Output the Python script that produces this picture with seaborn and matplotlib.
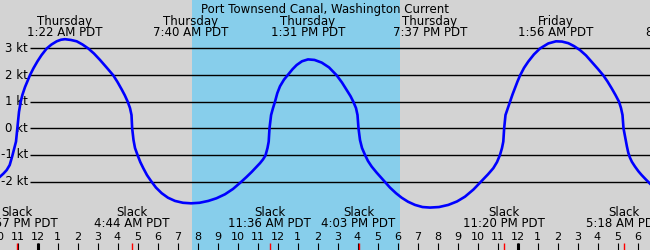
import matplotlib
matplotlib.use("Agg")
import matplotlib.pyplot as plt
import seaborn as sns
import pandas as pd

# ---- data (hours from Thursday 00:00 PDT, current in knots) ----
hours = [-1.875, -1.70, -1.54, -1.39, -1.26, -1.15, -1.075, -1.01, -0.925, -0.84,
         -0.75, -0.625, -0.5, -0.375, -0.2, 0.0, 0.2, 0.46, 0.70, 0.96,
         1.175, 1.375, 1.675, 1.96, 2.25, 2.54, 2.825, 3.125, 3.45, 3.79,
         4.0, 4.21, 4.365, 4.51, 4.625, 4.70, 4.733, 4.80, 4.875, 5.01,
         5.14, 5.29, 5.475, 5.675, 5.925, 6.21, 6.525, 6.875, 7.275, 7.675,
         8.10, 8.54, 8.95, 9.375, 9.775, 10.175, 10.45, 10.71, 10.925, 11.125,
         11.275, 11.4, 11.5, 11.56, 11.6, 11.68, 11.775, 11.875, 11.99, 12.125,
         12.325, 12.54, 12.75, 12.96, 13.225, 13.525, 13.85, 14.21, 14.575, 14.96,
         15.225, 15.46, 15.65, 15.79, 15.925, 16.0, 16.05, 16.125, 16.225, 16.375,
         16.525, 16.71, 16.95, 17.21, 17.425, 17.625, 17.925, 18.21, 18.525, 18.875,
         19.25, 19.625, 20.075, 20.54, 20.975, 21.375, 21.8, 22.21, 22.525, 22.79,
         22.975, 23.125, 23.225, 23.29, 23.333, 23.40, 23.5, 23.625, 23.75, 23.875,
         24.0, 24.125, 24.325, 24.54, 24.825, 25.125, 25.54, 25.925, 26.225, 26.54,
         26.825, 27.125, 27.425, 27.71, 28.0, 28.29, 28.5, 28.71, 28.9, 29.075,
         29.175, 29.25, 29.3, 29.40, 29.47, 29.54, 29.62, 29.72, 29.875, 30.05,
         30.21, 30.425, 30.625]
knots = [-1.82, -1.70, -1.57, -1.38, -1.04, -0.72, -0.5, 0.0, 0.62, 1.0,
         1.27, 1.55, 1.78, 2.0, 2.26, 2.52, 2.75, 3.0, 3.15, 3.27,
         3.33, 3.35, 3.32, 3.27, 3.15, 3.0, 2.81, 2.57, 2.29, 1.99,
         1.74, 1.46, 1.24, 1.0, 0.76, 0.5, 0.0, -0.44, -0.74, -1.02,
         -1.27, -1.5, -1.76, -1.98, -2.23, -2.44, -2.61, -2.73, -2.80, -2.82,
         -2.80, -2.73, -2.63, -2.48, -2.28, -2.02, -1.83, -1.64, -1.47, -1.31,
         -1.17, -1.02, -0.74, -0.5, 0.0, 0.5, 0.76, 1.0, 1.32, 1.58,
         1.83, 2.03, 2.22, 2.38, 2.52, 2.59, 2.57, 2.47, 2.29, 1.99,
         1.72, 1.44, 1.21, 1.0, 0.76, 0.5, 0.0, -0.44, -0.74, -1.0,
         -1.23, -1.44, -1.66, -1.88, -2.06, -2.23, -2.44, -2.61, -2.76, -2.88,
         -2.96, -2.98, -2.96, -2.88, -2.75, -2.57, -2.30, -1.98, -1.73, -1.50,
         -1.27, -1.0, -0.74, -0.5, 0.0, 0.5, 0.72, 1.0, 1.27, 1.52,
         1.76, 1.98, 2.27, 2.51, 2.78, 3.0, 3.19, 3.27, 3.26, 3.20,
         3.09, 2.94, 2.74, 2.50, 2.25, 1.99, 1.76, 1.50, 1.25, 1.0,
         0.76, 0.5, 0.0, -0.40, -0.68, -0.92, -1.10, -1.26, -1.44, -1.62,
         -1.76, -1.93, -2.08]

max_times = [1.367, 7.667, 13.517, 19.617, 25.933, 32.3]
max_days = ["Thursday", "Thursday", "Thursday", "Thursday", "Friday", "Friday"]
max_labels = ["1:22 AM PDT", "7:40 AM PDT", "1:31 PM PDT", "7:37 PM PDT", "1:56 AM PDT", "8:18 AM PDT"]

slack_times = [-1.05, 4.733, 11.6, 16.05, 23.333, 29.3]
slack_labels = ["10:57 PM PDT", "4:44 AM PDT", "11:36 AM PDT", "4:03 PM PDT", "11:20 PM PDT", "5:18 AM PDT"]

daylight = [7.71, 18.125]
midnights = [0, 24]

hour_ticks = list(range(-2, 32))
hour_labels = ["10", "11", "12", "1", "2", "3", "4", "5", "6", "7", "8", "9", "10", "11",
               "12", "1", "2", "3", "4", "5", "6", "7", "8", "9", "10", "11",
               "12", "1", "2", "3", "4", "5", "6", "7"]

grid_levels = [3, 2, 1, 0, -1, -2]
grid_labels = ["3 kt", "2 kt", "1 kt", "0 kt", "-1 kt", "-2 kt"]

title = "Port Townsend Canal, Washington Current"

# ---- plot ----
plt.rcParams["font.family"] = ["DejaVu Sans"]
FS = 8.5
fig = plt.figure(figsize=(6.5, 2.5), dpi=100)
ax = fig.add_axes([0, 0, 1, 1])
ax.set_facecolor("#d3d3d3")
fig.patch.set_facecolor("#d3d3d3")
XMIN, XMAX = -1.875, 30.625
YMIN, YMAX = -4.575, 4.823
for s in ax.spines.values():
    s.set_visible(False)

ax.axvspan(daylight[0], daylight[1], color="#87ceeb", lw=0, zorder=0)

ax.hlines(grid_levels, -0.375, XMAX, color="black", lw=1.0, zorder=1)
for lv, lb in zip(grid_levels, grid_labels):
    ax.text(-0.475, lv, lb, ha="right", va="center", fontsize=FS, zorder=2)

df = pd.DataFrame({"hours": hours, "knots": knots})
sns.lineplot(data=df, x="hours", y="knots", ax=ax, color="#0000ff", lw=1.9,
             sort=False, estimator=None, zorder=5)
ax.set_xlabel("")
ax.set_ylabel("")
ax.set_xticks([])
ax.set_yticks([])
ax.set_xlim(XMIN, XMAX)
ax.set_ylim(YMIN, YMAX)

ax.text((XMIN + XMAX) / 2, 4.35, title, ha="center", va="baseline", fontsize=FS)
for t, d, lb in zip(max_times, max_days, max_labels):
    ax.text(t, 3.88, d, ha="center", va="baseline", fontsize=FS)
    ax.text(t, 3.48, lb, ha="center", va="baseline", fontsize=FS)

for t, lb in zip(slack_times, slack_labels):
    ax.text(t, -3.29, "Slack", ha="center", va="baseline", fontsize=FS)
    ax.text(t, -3.72, lb, ha="center", va="baseline", fontsize=FS)

for h, lb in zip(hour_ticks, hour_labels):
    ax.text(h, -4.2, lb, ha="center", va="baseline", fontsize=8)
ax.vlines(hour_ticks, YMIN, -4.32, color="black", lw=0.8, zorder=3)
ax.vlines(midnights, YMIN, -4.32, color="black", lw=2.2, zorder=4)
ax.vlines(slack_times, YMIN, -4.31, color="red", lw=1.0, zorder=4)

fig.savefig("out.png", dpi=100, facecolor=fig.get_facecolor())
